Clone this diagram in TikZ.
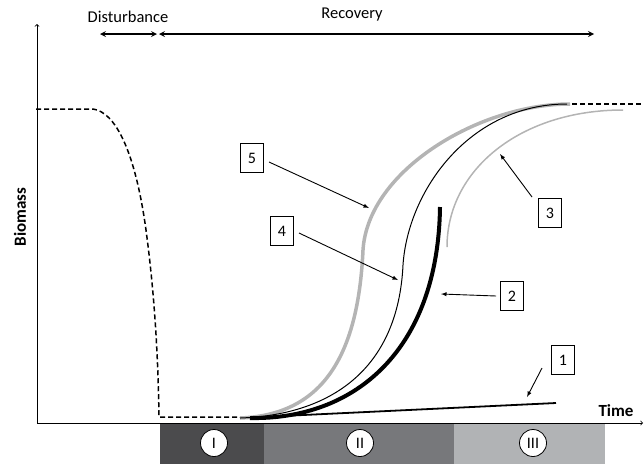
\documentclass[tikz,border=0pt]{standalone}
\usepackage{fontspec}
\setmainfont{Carlito}
\usetikzlibrary{positioning}
\definecolor{phaseone}{HTML}{4B4B4D}
\definecolor{phasetwo}{HTML}{77787B}
\definecolor{phasethree}{HTML}{B1B3B5}
\definecolor{lightcurve}{HTML}{B4B4B4}
\tikzset{
	numbox/.style={draw,line width=0.8pt,minimum width=23pt,minimum height=29pt,inner sep=0pt,font=\fontsize{16}{18}\selectfont},
	phasedisc/.style={circle,draw,line width=0.8pt,fill=white,minimum size=27pt,inner sep=0pt,font=\fontsize{16}{18}\selectfont},
	pointer/.style={->,>=latex,line width=0.9pt},
	span/.style={<->,>=stealth,line width=1.6pt},
	stage/.style={line width=1.5pt,dash pattern=on 5pt off 3pt},
	lbl/.style={font=\fontsize{16.5}{18}\selectfont},
	axislbl/.style={font=\fontsize{17}{19}\selectfont\bfseries},
}
\begin{document}
\begin{tikzpicture}[x=1pt,y=-1pt]
	\useasboundingbox (0,0) rectangle (644,464);
	\fill[phaseone] (160,424) rectangle (264,464);
	\fill[phasetwo] (264,424) rectangle (454,464);
	\fill[phasethree] (454,424) rectangle (605,464);
	\foreach \x/\n/\r in {214/p1/I,360/p2/II,533/p3/III}{
		\node[phasedisc] (\n) at (\x,443) {\r};
	}
	\draw[->,line width=0.8pt] (37,423) -- (643,423);
	\draw[->,line width=0.8pt] (37,423) -- (37,24);
	\node[axislbl] (time) at (616,411) {Time};
	\node[axislbl,rotate=90] (biomass) at (20,217) {Biomass};
	\coordinate (d0) at (100,34);
	\coordinate (d1) at (157,34);
	\coordinate (r0) at (159,34);
	\coordinate (r1) at (594,34);
	\draw[span] (d0) -- (d1);
	\draw[span] (r0) -- (r1);
	\node[lbl] (dist) at (128,17) {Disturbance};
	\node[lbl] (rec) at (352,15) {Recovery};
	\draw[stage] (36,109) -- (93,109) .. controls (115,112) and (135,150) .. (146,230)
		.. controls (154,290) and (158,350) .. (159,417) -- (240,417);
	\draw[stage] (572,104) -- (644,104);
	\draw[line width=1.8pt] (240,418) -- (556,403);
	\draw[lightcurve,line width=1.5pt] (447,247) .. controls (447,170) and (520,110) .. (623,110);
	\draw[lightcurve,line width=3.5pt] (240,418) .. controls (320,415) and (358,360) .. (363,250)
		.. controls (368,170) and (480,104) .. (570,104);
	\draw[line width=1pt] (240,418) .. controls (330,415) and (398,370) .. (403,265)
		.. controls (408,190) and (470,104) .. (567,104);
	\draw[line width=4pt] (250,418) .. controls (355,420) and (438,350) .. (440,207);
	\node[numbox] (b1) at (563,360) {1};
	\node[numbox] (b2) at (512,296) {2};
	\node[numbox] (b3) at (550,213) {3};
	\node[numbox] (b4) at (282,231) {4};
	\node[numbox] (b5) at (252,158) {5};
	\coordinate (t1) at (527,397);
	\coordinate (t2) at (441,294);
	\coordinate (t3) at (500,154);
	\coordinate (t4) at (398,280);
	\coordinate (t5) at (369,208);
	\draw[pointer] (542,368) -- (t1);
	\draw[pointer] (b2.west) ++(-4,0) -- (t2);
	\draw[pointer] (532,197) -- (t3);
	\draw[pointer] (299,233) -- (t4);
	\draw[pointer] (269,162) -- (t5);
\end{tikzpicture}
\end{document}
